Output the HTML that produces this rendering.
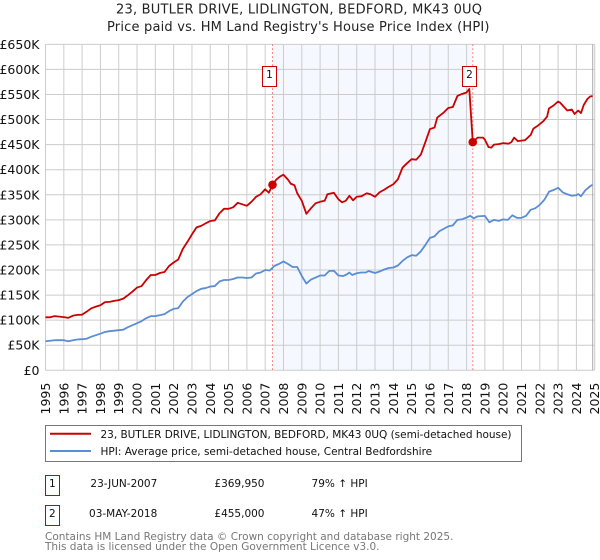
<!DOCTYPE html>
<html lang="en">
<head>
<meta charset="utf-8">
<title>23, Butler Drive price paid vs HPI</title>
<style>
html,body{margin:0;padding:0;background:#fff;}
#chart{display:block;width:600px;height:560px;font-family:"DejaVu Sans","Liberation Sans",sans-serif;}
</style>
</head>
<body>
<svg id="chart" xmlns="http://www.w3.org/2000/svg" width="600" height="560" viewBox="0 0 600 560">
  <rect x="0" y="0" width="600" height="560" fill="#fff"/>
  <text x="116" y="13.5" font-size="13" textLength="366" fill="#222">23, BUTLER DRIVE, LIDLINGTON, BEDFORD, MK43 0UQ</text>
  <text x="107" y="31" font-size="13" textLength="382.5" fill="#222">Price paid vs. HM Land Registry's House Price Index (HPI)</text>
  <g id="plot"></g>

  <g>
    <rect x="45.5" y="425.5" width="476" height="36" fill="#fff" stroke="#777" stroke-width="1"/>
    <line x1="50" x2="91" y1="433.7" y2="433.7" stroke="#cc0000" stroke-width="2"/>
    <text x="100.5" y="438" font-size="10.5" fill="#111" textLength="411">23, BUTLER DRIVE, LIDLINGTON, BEDFORD, MK43 0UQ (semi-detached house)</text>
    <line x1="50" x2="91" y1="451" y2="451" stroke="#5b8dd3" stroke-width="2"/>
    <text x="100.5" y="455" font-size="10.5" fill="#111">HPI: Average price, semi-detached house, Central Bedfordshire</text>
  </g>

  <g font-size="10.5" fill="#111">
    <rect x="45.5" y="475.5" width="14" height="20" fill="#fff" stroke="#cc0000" stroke-width="1"/>
    <text x="52.3" y="487" text-anchor="middle">1</text>
    <text x="157.3" y="487" text-anchor="end">23-JUN-2007</text>
    <text x="264.5" y="487" text-anchor="end">£369,950</text>
    <text x="367.7" y="487" text-anchor="end">79% ↑ HPI</text>
    <rect x="45.5" y="505.5" width="14" height="20" fill="#fff" stroke="#cc0000" stroke-width="1"/>
    <text x="52.3" y="517" text-anchor="middle">2</text>
    <text x="157.3" y="517" text-anchor="end">03-MAY-2018</text>
    <text x="264.5" y="517" text-anchor="end">£455,000</text>
    <text x="367.7" y="517" text-anchor="end">47% ↑ HPI</text>
  </g>

  <g font-size="10.5" fill="#777">
    <text x="45" y="540">Contains HM Land Registry data © Crown copyright and database right 2025.</text>
    <text x="45" y="550">This data is licensed under the Open Government Licence v3.0.</text>
  </g>
</svg>
<script>
const yearTicks = [1995,1996,1997,1998,1999,2000,2001,2002,2003,2004,2005,2006,2007,2008,2009,2010,2011,2012,2013,2014,2015,2016,2017,2018,2019,2020,2021,2022,2023,2024,2025];
const valueTicks = [0,50000,100000,150000,200000,250000,300000,350000,400000,450000,500000,550000,600000,650000];
const valueTickLabels = ["£0","£50K","£100K","£150K","£200K","£250K","£300K","£350K","£400K","£450K","£500K","£550K","£600K","£650K"];

const hpiYears = [1995,1995.25,1995.5,1995.75,1996,1996.25,1996.5,1996.75,1997,1997.25,1997.5,1997.75,1998,1998.25,1998.5,1998.75,1999,1999.25,1999.5,1999.75,2000,2000.25,2000.5,2000.75,2001,2001.25,2001.5,2001.75,2002,2002.25,2002.5,2002.75,2003,2003.25,2003.5,2003.75,2004,2004.25,2004.5,2004.75,2005,2005.25,2005.5,2005.75,2006,2006.25,2006.5,2006.75,2007,2007.25,2007.5,2007.75,2008,2008.25,2008.5,2008.75,2009,2009.25,2009.5,2009.75,2010,2010.25,2010.5,2010.75,2011,2011.25,2011.45,2011.6,2011.75,2012,2012.25,2012.5,2012.65,2013,2013.25,2013.5,2013.75,2014,2014.25,2014.5,2014.75,2015,2015.25,2015.5,2015.75,2016,2016.25,2016.5,2016.75,2017,2017.25,2017.5,2017.75,2018,2018.2,2018.4,2018.6,2019,2019.25,2019.5,2019.75,2020,2020.25,2020.5,2020.75,2021,2021.25,2021.5,2021.75,2022,2022.25,2022.5,2022.75,2023,2023.25,2023.5,2023.75,2024,2024.1,2024.25,2024.5,2024.75,2024.88];
const hpiValues = [58000,59000,60000,60000,60000,58000,60000,61500,62000,63000,67000,70000,73000,76500,78000,79000,80000,81000,86000,90000,94000,98000,104000,108000,108000,110000,112000,118000,122500,124000,137000,146000,152000,158000,162500,164000,167000,168000,177000,180000,180000,182000,185000,185000,184000,185000,193000,195000,200000,199000,208000,212000,217000,212000,206000,206000,188000,173000,181000,185000,189000,189000,198000,198500,189000,188000,191000,195000,190000,193500,195000,195000,198000,194000,197000,201000,204000,205000,209000,218000,225000,229600,228500,237000,250000,264000,267000,277000,282000,287000,289000,300000,301000,304600,308000,303000,307000,308000,295000,300000,298000,301000,300000,309000,304000,304000,308000,320000,323000,330000,340000,356000,359500,364000,355000,351000,348000,349000,351500,347000,359500,367000,370000];

const priceYears = [1995,1995.25,1995.5,1995.75,1996,1996.25,1996.5,1996.75,1997,1997.25,1997.5,1997.75,1998,1998.25,1998.5,1998.75,1999,1999.25,1999.5,1999.75,2000,2000.25,2000.5,2000.75,2001,2001.25,2001.5,2001.75,2002,2002.25,2002.5,2002.75,2003,2003.25,2003.5,2003.75,2004,2004.25,2004.5,2004.75,2005,2005.25,2005.5,2005.75,2006,2006.25,2006.5,2006.75,2007,2007.2,2007.4,2007.6,2007.8,2008,2008.25,2008.4,2008.6,2008.75,2009,2009.25,2009.5,2009.75,2010,2010.25,2010.4,2010.75,2011,2011.2,2011.4,2011.6,2011.8,2012,2012.25,2012.55,2012.75,2013,2013.25,2013.5,2013.75,2014,2014.25,2014.5,2014.75,2015,2015.25,2015.5,2015.75,2016,2016.25,2016.4,2016.75,2017,2017.25,2017.5,2017.75,2018,2018.15,2018.34,2018.6,2018.9,2019,2019.2,2019.35,2019.5,2019.75,2020,2020.3,2020.45,2020.6,2020.8,2021,2021.2,2021.4,2021.5,2021.65,2021.9,2022.2,2022.4,2022.5,2022.75,2023,2023.1,2023.3,2023.5,2023.75,2023.9,2024.1,2024.25,2024.4,2024.6,2024.75,2024.88];
const priceValues = [105700,105700,108000,107000,106000,104600,109000,110500,110900,116900,123600,127000,129700,136000,136500,138500,140000,143000,149600,157000,165000,168000,180000,190000,190000,194000,196000,208000,215000,221000,241800,256000,271000,285000,288000,293000,297700,299000,313000,322000,322000,325000,334000,331000,328000,336000,346000,351000,361000,354000,369950,380000,386000,390000,380000,372000,369000,353000,338000,312000,323000,333000,336000,338000,351000,354000,341000,335000,338000,348000,339000,346000,347000,353000,351000,346000,355000,360000,366000,371000,381000,404000,413000,421000,420000,430000,455000,481000,484000,504000,514000,523000,525000,547000,551000,554000,561000,455000,464000,464000,460000,445000,444000,450000,451000,453000,452000,455000,464000,457000,458000,459000,466000,469000,482000,488000,497000,506000,522000,528000,536000,534000,526000,518000,520000,511000,518000,513000,529000,541000,546000,547000];

const saleYears = [2007.4, 2018.34];
const salePrices = [369950, 455000];
const saleLabels = ["1", "2"];

const NS = "http://www.w3.org/2000/svg";
const plot = document.getElementById("plot");
const xScale = function (year) { return 45.5 + (year - 1995) * 18.307; };
const yScale = function (value) { return 370.3 - value * 0.0005015; };

function make(tag, attrs, parent) {
  const el = document.createElementNS(NS, tag);
  Object.keys(attrs).forEach(function (k) { el.setAttribute(k, attrs[k]); });
  (parent || plot).appendChild(el);
  return el;
}

const shade = make("rect", {x: xScale(saleYears[0]), y: yScale(650000), width: xScale(saleYears[1]) - xScale(saleYears[0]), height: yScale(0) - yScale(650000), fill: "#f5f8ff"});



valueTicks.forEach(function (v, i) {
  const g = make("line", {x1: 45.5, x2: 594.7, y1: yScale(v), y2: yScale(v), stroke: "#ccc", "stroke-width": 1});
  
  
  const t = make("text", {x: 39.5, y: yScale(v) + 4.5, "font-size": 12.5, "text-anchor": "end", fill: "#111"});
  t.textContent = valueTickLabels[i];
  
  
});

yearTicks.forEach(function (y) {
  const x = xScale(y);
  const g = make("line", {x1: x, x2: x, y1: yScale(650000), y2: yScale(0), stroke: "#ccc", "stroke-width": 1});
  
  
  const t = make("text", {transform: "translate(" + (x + 4.5) + ",414.5) rotate(-90)", "font-size": 12.5, fill: "#111"});
  t.textContent = String(y);
  
  
});

const endLine = make("line", {x1: 592.7, x2: 592.7, y1: yScale(650000), y2: yScale(0), stroke: "#aaa", "stroke-width": 1});



function pathFor(xs, ys) {
  return xs.map(function (yr, i) {
    return (i ? "L" : "M") + xScale(yr).toFixed(2) + " " + yScale(ys[i]).toFixed(2);
  }).join(" ");
}

saleYears.forEach(function (yr) {
  const l = make("line", {x1: xScale(yr), x2: xScale(yr), y1: yScale(650000), y2: yScale(0), stroke: "#ff6666", "stroke-width": 1, "stroke-dasharray": "1.5 2.5"});
  
  
});

const hpiLine = make("path", {d: pathFor(hpiYears, hpiValues), fill: "none", stroke: "#5b8dd3", "stroke-width": 1.8, "stroke-linejoin": "round"});



const priceLine = make("path", {d: pathFor(priceYears, priceValues), fill: "none", stroke: "#cc0000", "stroke-width": 1.8, "stroke-linejoin": "round"});



saleYears.forEach(function (yr, i) {
  const c = make("circle", {cx: xScale(yr), cy: yScale(salePrices[i]), r: 4.3, fill: "#cc0000"});
  
  
  const bx = Math.round(xScale(yr)) - 10.5;
  const b = make("rect", {x: bx, y: 66.5, width: 14, height: 20, fill: "#fff", stroke: "#cc0000", "stroke-width": 1});
  
  
  const t = make("text", {x: bx + 7, y: 78, "font-size": 10.5, "text-anchor": "middle", fill: "#111"});
  t.textContent = saleLabels[i];
  
  
});
</script>
</body>
</html>
